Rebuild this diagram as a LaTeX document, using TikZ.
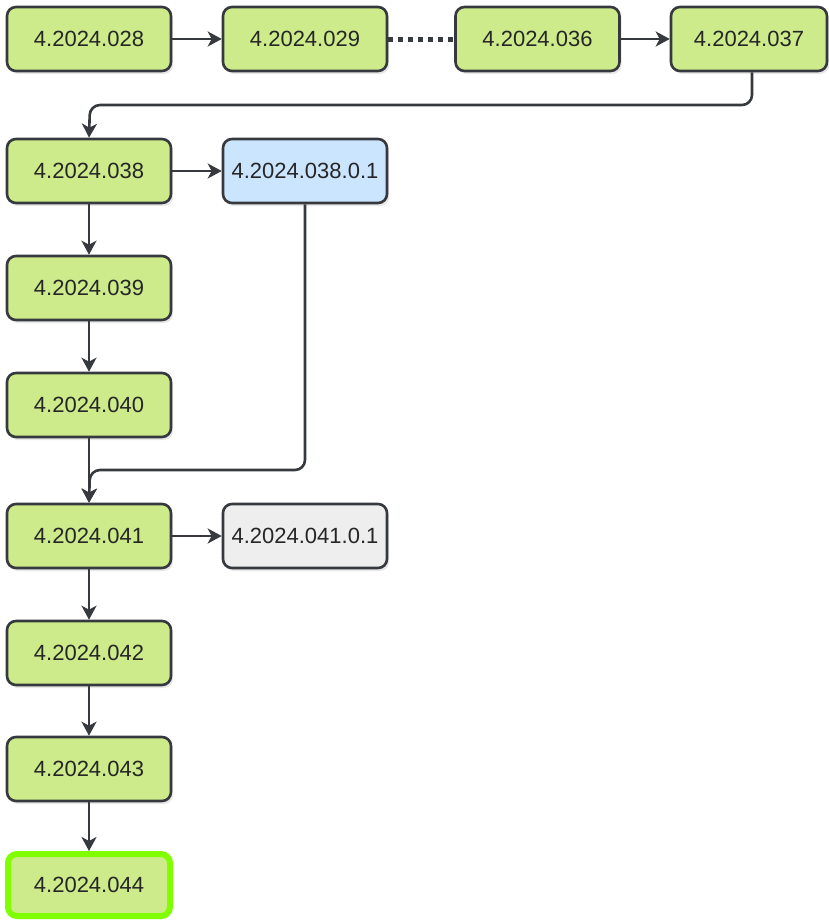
\documentclass[tikz,border=0pt]{standalone}
\usepackage{fontspec}
\setmainfont{Liberation Sans}
\usetikzlibrary{arrows.meta,shadows}
\definecolor{gfill}{HTML}{CDEB8B}
\definecolor{bfill}{HTML}{CCE5FF}
\definecolor{efill}{HTML}{EEEEEE}
\definecolor{stroke}{HTML}{36393D}
\definecolor{hilite}{HTML}{80FF00}
\tikzset{
  ver/.style={draw=stroke, line width=2.6pt, rounded corners=9pt, minimum width=164pt, minimum height=64pt,
    inner sep=0pt, font=\fontsize{22}{26}\selectfont, text=black!85,
    drop shadow={shadow xshift=2pt, shadow yshift=-3pt, opacity=0.18}},
  green/.style={ver, fill=gfill},
  blue/.style={ver, fill=bfill},
  grey/.style={ver, fill=efill},
  conn/.style={draw=stroke, line width=2.6pt, rounded corners=10pt, -{Stealth[length=14pt,width=15pt,inset=4pt]}},
}
\begin{document}
\begin{tikzpicture}[x=1pt,y=-1pt]
\useasboundingbox (0,0) rectangle (829,921);
\node[green] (n28) at (89,39) {4.2024.028};
\node[green] (n29) at (305,39) {4.2024.029};
\node[green] (n36) at (537.5,39) {4.2024.036};
\node[green, minimum width=156pt] (n37) at (749,39) {4.2024.037};
\node[green] (n38) at (89,171) {4.2024.038};
\node[blue] (n38a) at (305,171) {4.2024.038.0.1};
\node[green] (n39) at (89,288) {4.2024.039};
\node[green] (n40) at (89,405) {4.2024.040};
\node[green] (n41) at (89,536) {4.2024.041};
\node[grey] (n41a) at (305,536) {4.2024.041.0.1};
\node[green] (n42) at (89,653) {4.2024.042};
\node[green] (n43) at (89,769) {4.2024.043};
\node[green, draw=hilite, line width=6pt, minimum width=162pt, minimum height=62pt] (n44) at (89,885) {4.2024.044};

\draw[conn] (n28) -- (n29);
\draw[draw=stroke, line width=5pt, dash pattern=on 5pt off 5pt] (n29.east) -- (n36.west);
\draw[conn] (n36) -- (n37);
\coordinate (c1) at (752,105);
\draw[conn] (n37.south -| c1) -- (c1) -- (90,105) -- (n38.north);
\draw[conn] (n38) -- (n38a);
\draw[conn] (n38) -- (n39);
\draw[conn] (n39) -- (n40);
\draw[conn] (n40) -- (n41);
\draw[conn] (n38a.south) -- (305,470) -- (90,470) -- (n41.north);
\draw[conn] (n41) -- (n41a);
\draw[conn] (n41) -- (n42);
\draw[conn] (n42) -- (n43);
\draw[conn] (n43) -- (n44);
\end{tikzpicture}
\end{document}
